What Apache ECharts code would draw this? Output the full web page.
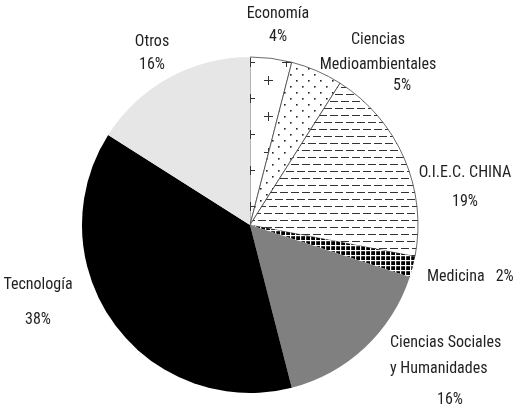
<!DOCTYPE html>
<html>
<head>
<meta charset="utf-8">
<script src="https://cdn.jsdelivr.net/npm/echarts@6/dist/echarts.min.js"></script>
<style>
html,body{margin:0;padding:0;background:#fff;}
#c{width:520px;height:419px;}
</style>
</head>
<body>
<div id="c"></div>
<script>
// ---- data ----
const categories = ['Economía', 'Ciencias\nMedioambientales', 'O.I.E.C. CHINA', 'Medicina', 'Ciencias Sociales\ny Humanidades', 'Tecnología', 'Otros'];
const values = [4, 5, 19, 2, 16, 38, 16];

// ---- patterns ----
function tile(w, h, draw) {
  const c = document.createElement('canvas');
  c.width = w; c.height = h;
  const g = c.getContext('2d');
  draw(g);
  return c;
}
const plusTile = tile(36, 36, g => {
  g.fillStyle = '#fff'; g.fillRect(0, 0, 36, 36);
  g.strokeStyle = '#333'; g.lineWidth = 1;
  const pts = [[34, 26], [16, 8], [-2, 26], [34, -10], [16, 44], [52, 8]];
  pts.forEach(([x, y]) => {
    g.beginPath();
    g.moveTo(x - 4, y + 0.5); g.lineTo(x + 5, y + 0.5);
    g.moveTo(x + 0.5, y - 4); g.lineTo(x + 0.5, y + 5);
    g.stroke();
  });
});
const dotTile = tile(12, 12, g => {
  g.fillStyle = '#fff'; g.fillRect(0, 0, 12, 12);
  g.fillStyle = '#222';
  g.fillRect(2, 2, 1.6, 1.6);
  g.fillRect(8, 8, 1.6, 1.6);
});
const dashTile = tile(22, 14, g => {
  g.fillStyle = '#fff'; g.fillRect(0, 0, 22, 14);
  g.fillStyle = '#333';
  g.fillRect(0, 3, 8, 1); g.fillRect(11, 3, 8, 1);
  g.fillRect(5, 10, 8, 1); g.fillRect(16, 10, 6, 1); g.fillRect(0, 10, 2, 1);
});
const gridTile = tile(5, 5, g => {
  g.fillStyle = '#000'; g.fillRect(0, 0, 5, 5);
  g.fillStyle = '#fff';
  g.fillRect(0, 0, 5, 1.2); g.fillRect(0, 0, 1.2, 5);
});

const sliceStyles = [
  { color: { image: plusTile, repeat: 'repeat' }, borderColor: '#444', borderWidth: 0.8 },
  { color: { image: dotTile, repeat: 'repeat' }, borderColor: '#444', borderWidth: 0.8 },
  { color: { image: dashTile, repeat: 'repeat' }, borderColor: '#444', borderWidth: 0.8 },
  { color: { image: gridTile, repeat: 'repeat' }, borderWidth: 0 },
  { color: '#808080', borderWidth: 0 },
  { color: '#000000', borderWidth: 0 },
  { color: '#e6e6e6', borderWidth: 0 }
];

// label placement (styling only)
const labelPos = [
  { x: 278, y: 25.5, align: 'center', lh: ['l23', 'l23'] },
  { x: 378, y: 61, align: 'center', lh: ['l25', 'l25', 'p5'] },
  { x: 465, y: 187.5, align: 'center', lh: ['l29', 'l29'] },
  { x: 427, y: 277, align: 'left', inline: true },
  { x: 390, y: 373.5, align: 'left', lh: ['l24', 'l28', 'p16'] },
  { x: 38, y: 302.5, align: 'center', lh: ['l35', 'l35'] },
  { x: 152, y: 53.5, align: 'center', lh: ['l23', 'l23'] }
];

const data = categories.map((n, i) => ({ name: n, value: values[i], itemStyle: sliceStyles[i] }));

const FONT = '"Roboto Condensed", "DejaVu Sans Condensed", sans-serif';
const base = { fontFamily: FONT, fontSize: 16, color: '#231f20' };
const rich = {
  l23: Object.assign({ lineHeight: 23 }, base),
  l24: Object.assign({ lineHeight: 24 }, base),
  l25: Object.assign({ lineHeight: 25 }, base),
  l28: Object.assign({ lineHeight: 28 }, base),
  l29: Object.assign({ lineHeight: 29 }, base),
  l35: Object.assign({ lineHeight: 35 }, base),
  p5: Object.assign({ lineHeight: 17, padding: [0, 0, 0, 48] }, base),
  p16: Object.assign({ lineHeight: 34, padding: [0, 0, 0, 47] }, base),
  m: Object.assign({ lineHeight: 20 }, base),
  mp: Object.assign({ lineHeight: 20, padding: [0, 0, 0, 11] }, base)
};

const chart = echarts.init(document.getElementById('c'), null, { renderer: 'canvas' });
chart.setOption({
  backgroundColor: '#fff',
  animation: false,
  series: [{
    type: 'pie',
    center: [250, 225],
    radius: 168,
    startAngle: 90,
    clockwise: true,
    avoidLabelOverlap: false,
    data: data,
    emphasis: { disabled: true },
    label: {
      show: true,
      position: 'outside',
      rich: rich,
      formatter: p => {
        const L = labelPos[p.dataIndex];
        if (L.inline) return '{m|' + p.name + '}{mp|' + p.value + '%}';
        const lines = p.name.split('\n');
        const out = lines.map((t, k) => '{' + L.lh[k] + '|' + t + '}');
        out.push('{' + L.lh[lines.length] + '|' + p.value + '%}');
        return out.join('\n');
      }
    },
    labelLine: { show: false },
    labelLayout: p => {
      const L = labelPos[p.dataIndex];
      return { x: L.x, y: L.y, align: L.align, verticalAlign: 'middle', hideOverlap: false };
    }
  }]
});
</script>
</body>
</html>
